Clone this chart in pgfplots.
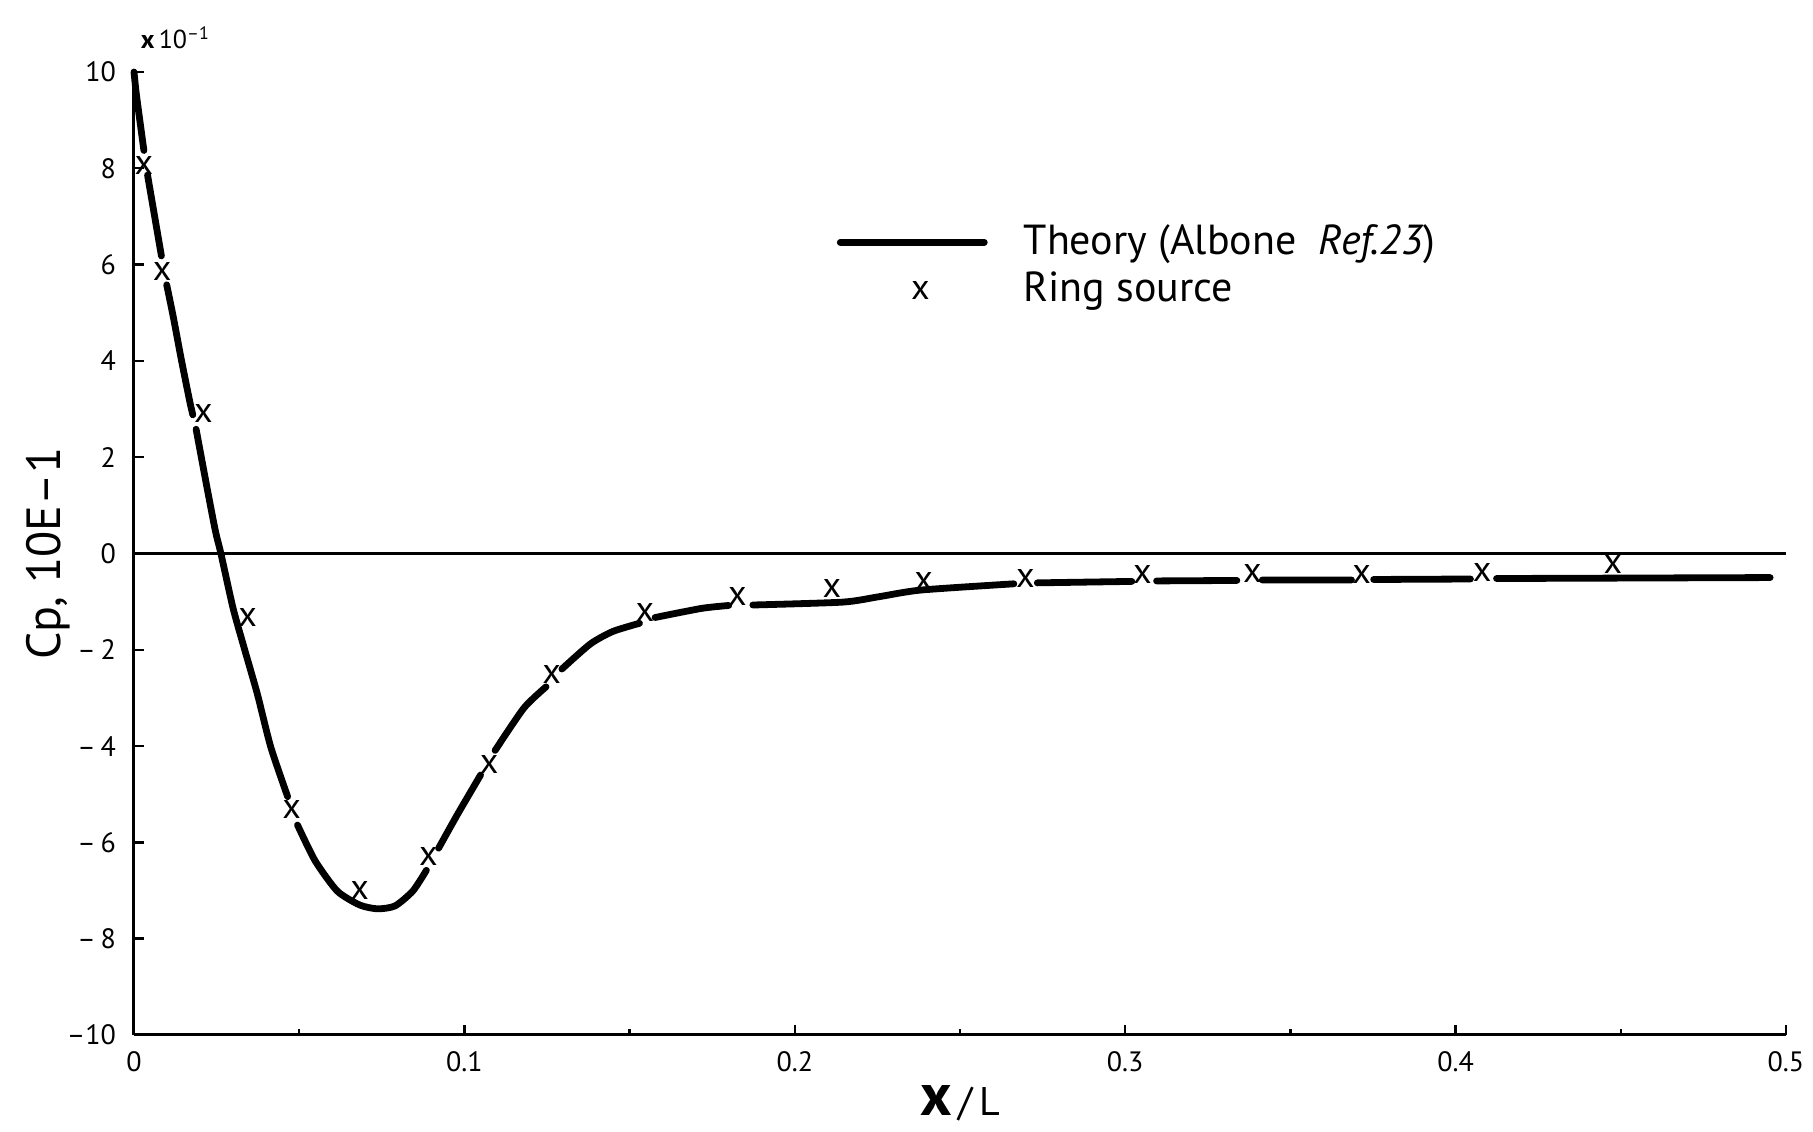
\documentclass[border=0pt]{standalone}
\usepackage{pgfplots}
\pgfplotsset{compat=1.18}
\usepackage{pgfplotstable}
\usepackage{fontspec}
\setmainfont{PT Sans}
\setsansfont{PT Sans}

\pgfplotsset{
  theorylegend/.style={legend image code/.code={\draw[black, line width=1.7pt, line cap=round] (0pt,0pt) -- (36pt,0pt);}},
  ringlegend/.style={legend image code/.code={\draw[##1] plot coordinates {(20pt,0pt)};}},
}

\pgfplotstableread{
x y
0.0000 10.00
0.0008 9.49
0.0030 8.37
nan nan
0.0041 7.86
0.0083 6.18
nan nan
0.0099 5.58
0.0119 4.91
0.0144 4.00
0.0169 3.15
0.0178 2.88
nan nan
0.0188 2.58
0.0219 1.44
0.0246 0.48
0.0263 0.00
0.0300 -1.14
0.0333 -1.95
0.0373 -2.91
0.0414 -4.02
0.0465 -5.05
nan nan
0.0495 -5.64
0.0548 -6.38
0.0615 -7.01
0.0683 -7.30
0.0737 -7.38
0.0790 -7.32
0.0844 -7.01
0.0885 -6.58
nan nan
0.0922 -6.12
0.0979 -5.42
0.1049 -4.60
nan nan
0.1093 -4.09
0.1180 -3.21
0.1247 -2.77
nan nan
0.1295 -2.40
0.1381 -1.88
0.1449 -1.62
0.1530 -1.45
nan nan
0.1577 -1.33
0.1718 -1.14
0.1800 -1.08
nan nan
0.1873 -1.07
0.2145 -1.01
0.2253 -0.90
0.2381 -0.76
0.2663 -0.63
nan nan
0.2734 -0.61
0.3020 -0.58
nan nan
0.3095 -0.57
0.3338 -0.56
nan nan
0.3415 -0.55
0.3685 -0.55
nan nan
0.3752 -0.54
0.4045 -0.53
nan nan
0.4124 -0.52
0.4952 -0.50
}\theory

\pgfplotstableread{
x y
0.0030 8.05
0.0085 5.86
0.0210 2.90
0.0344 -1.33
0.0477 -5.31
0.0683 -6.99
0.0891 -6.29
0.1075 -4.39
0.1264 -2.51
0.1546 -1.22
0.1826 -0.90
0.2112 -0.73
0.2390 -0.58
0.2698 -0.51
0.3052 -0.43
0.3385 -0.42
0.3716 -0.43
0.4080 -0.39
0.4476 -0.22
}\ring

\begin{document}
\begin{tikzpicture}
\path[use as bounding box] (-33.5pt,-24.25pt) rectangle (419.75pt,258.75pt);
\begin{axis}[
  scale only axis,
  width=413pt, height=240.75pt,
  xmin=0, xmax=0.5, ymin=-10, ymax=10,
  axis x line*=bottom, axis y line*=left,
  axis line style={line width=0.75pt, black},
  xtick={0,0.1,0.2,0.3,0.4,0.5},
  xticklabels={0,0.1,0.2,0.3,0.4,0.5},
  minor xtick={0.05,0.15,0.25,0.35,0.45},
  ytick={-10,-8,-6,-4,-2,0,2,4,6,8,10},
  yticklabels={--10,--\,8,--\,6,--\,4,--\,2,0,2,4,6,8,10},
  tick align=inside,
  major tick length=2.5pt, minor tick length=1.6pt,
  tick style={line width=0.6pt, black},
  tick label style={font=\fontsize{7}{7.5}\selectfont},
  yticklabel style={xshift=-1pt},
  xticklabel style={yshift=-0.5pt},
  xlabel={\fontsize{15}{15}\selectfont\bfseries x\fontsize{10}{10}\selectfont\mdseries\,/\,L},
  xlabel style={at={(axis description cs:0.5,0)}, anchor=center, yshift=-17pt},
  ylabel={Cp, 10E--1},
  ylabel style={at={(axis description cs:0,0.5)}, anchor=center, yshift=21.5pt, font=\fontsize{12}{13}\selectfont},
  legend style={at={(rel axis cs:0.425,0.851)}, anchor=north west, draw=none, fill=none,
    font=\fontsize{10.5}{12}\selectfont, row sep=-1pt, inner sep=0pt,
    nodes={inner sep=2pt},
    /tikz/every odd column/.append style={column sep=7pt}},
  legend cell align=left,
  clip=false,
]
\addplot[black, line width=0.6pt, forget plot] coordinates {(0,0) (0.5,0)};
\addplot[black, line width=1.7pt, line cap=round, smooth, tension=0.4, unbounded coords=jump, theorylegend]
  table[x=x,y=y] {\theory};
\addlegendentry{Theory (Albone\ \ \textit{Ref.23})}
\addplot[black, only marks, mark=text, text mark={\fontsize{9}{9}\selectfont x},
  text mark style={/tikz/inner sep=0pt}, ringlegend]
  table[x=x,y=y] {\ring};
\addlegendentry{Ring source}
\node[anchor=west, inner sep=0pt, font=\fontsize{6.5}{7}\selectfont] at (rel axis cs:0,1) [xshift=1.5pt, yshift=8.5pt] {\textbf{x}\,10\raisebox{2.2pt}{\fontsize{4.5}{5}\selectfont --1}};
\end{axis}
\end{tikzpicture}
\end{document}
